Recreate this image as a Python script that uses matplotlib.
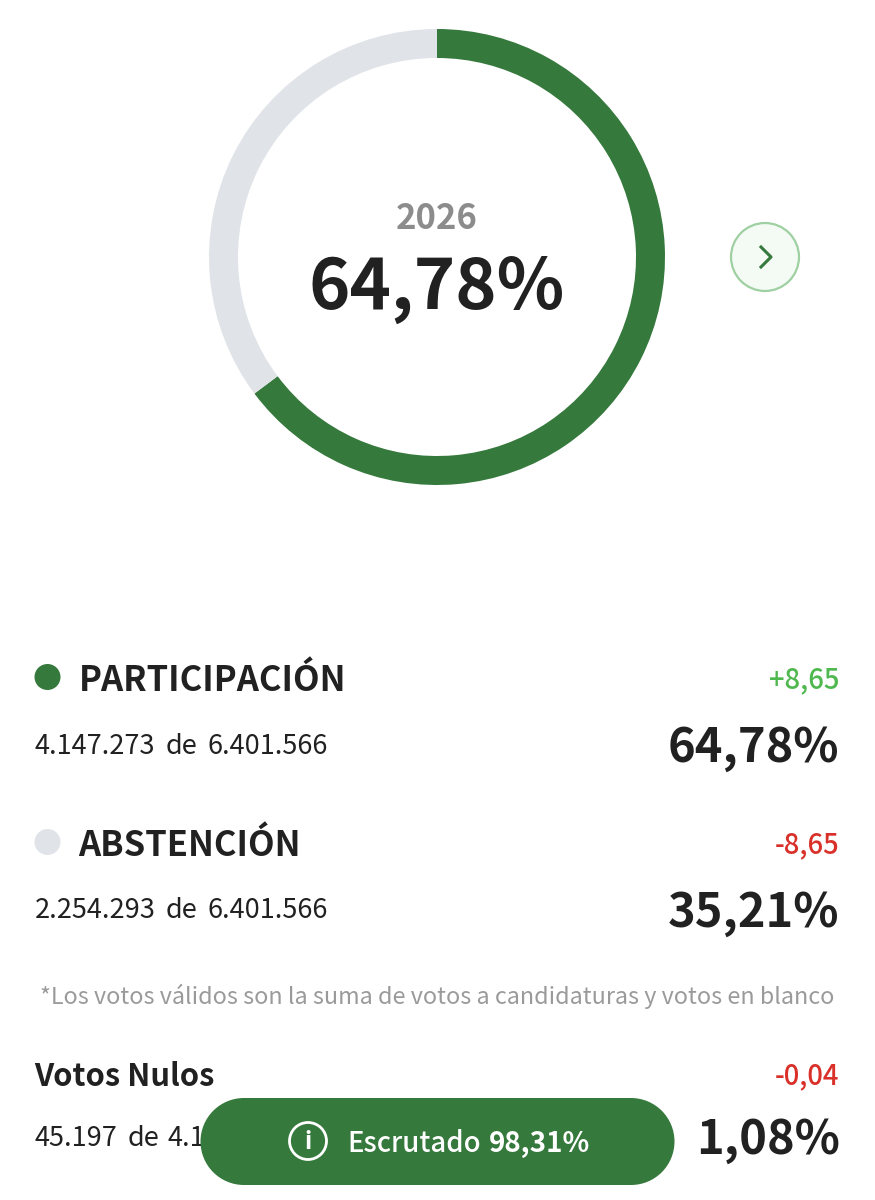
import numpy as np
import matplotlib.pyplot as plt
from matplotlib.patches import Wedge, Circle, Rectangle
from matplotlib.lines import Line2D

plt.rcParams['font.family'] = ['Noto Sans CJK JP', 'DejaVu Sans']

# Data
year = '2026'
ring_label = '64,78%'
ring_values = [64.78, 35.22]
ring_colors = ['#35793c', '#e0e3e8']

names = ['PARTICIPACIÓN', 'ABSTENCIÓN']
counts = ['4.147.273 de 6.401.566', '2.254.293 de 6.401.566']
diffs = ['+8,65', '-8,65']
pcts = ['64,78%', '35,21%']
dot_colors = ['#35793c', '#e0e3e8']
diff_colors = ['#4fb84f', '#d9302a']

note = '*Los votos válidos son la suma de votos a candidaturas y votos en blanco'
nulos_label = 'Votos Nulos'
nulos_count = '45.197 de 4.147.273'
nulos_diff = '-0,04'
nulos_pct = '1,08%'
scrutiny_label = 'Escrutado'
scrutiny_value = '98,31%'

dark = '#212121'
green = '#35793c'

fig = plt.figure(figsize=(8.75, 12), dpi=100)
ax = fig.add_axes([0, 0, 1, 1])
ax.set_xlim(0, 875)
ax.set_ylim(1200, 0)
ax.axis('off')


# the "de" in the counts sits with wider gaps than a normal space
def draw_count(text, xs, y):
    for part, x in zip(text.split(' '), xs):
        ax.text(x, y, part, fontsize=19.5, color=dark, ha='left', va='center')


# ring, y axis is flipped so angles run clockwise from the top
cx, cy = 437, 257
r_out, width = 228, 29
start = -90
for val, col in zip(ring_values, ring_colors):
    end = start + val * 3.6
    ax.add_patch(Wedge((cx, cy), r_out, start, end, width=width, color=col, lw=0))
    start = end

ax.text(cx, 218.5, year, fontsize=25, fontweight='bold', color='#8c8c8c', ha='center', va='center')
ax.text(cx, 289, ring_label, fontsize=50.6, fontweight='bold', color=dark, ha='center', va='center')

# next button
ax.add_patch(Circle((765, 257), 34, facecolor='#f4faf4', edgecolor='#9fd0a2', lw=1.6))
ax.add_line(Line2D([761, 771, 761], [247, 257, 267], color=green, lw=2.2))

# table rows
row_y = [678, 843]
for name, count, diff, pct, dot, diff_col, y in zip(names, counts, diffs, pcts, dot_colors, diff_colors, row_y):
    ax.add_patch(Circle((47.5, y - 1), 13, color=dot, lw=0))
    ax.text(78.5, y + 2.5, name, fontsize=24.9, fontweight='bold', color=dark, ha='left', va='center')
    ax.text(839, y + 1.5, diff, fontsize=19.7, fontweight='medium', color=diff_col, ha='right', va='center')
    draw_count(count, (34.5, 166, 207.5), y + 68)
    ax.text(839.5, y + 70, pct, fontsize=33.8, fontweight='bold', color=dark, ha='right', va='center')

ax.text(437, 996, note, fontsize=16.8, color='#9a9a9a', ha='center', va='center')

ax.text(34.5, 1077, nulos_label, fontsize=22.3, fontweight='bold', color=dark, ha='left', va='center')
ax.text(839, 1076, nulos_diff, fontsize=19.7, fontweight='medium', color='#d9302a', ha='right', va='center')
draw_count(nulos_count, (34.5, 128, 167.5), 1138)
ax.text(839.5, 1140, nulos_pct, fontsize=33.8, fontweight='bold', color=dark, ha='right', va='center')

# floating pill on top of the last row
ax.add_patch(Rectangle((244, 1098), 387, 87, facecolor=green, edgecolor='none', zorder=5))
ax.add_patch(Circle((244, 1141.5), 43.5, facecolor=green, edgecolor='none', zorder=5))
ax.add_patch(Circle((631, 1141.5), 43.5, facecolor=green, edgecolor='none', zorder=5))
ax.add_patch(Circle((308, 1141), 18.5, facecolor='none', edgecolor='white', lw=2, zorder=6))
ax.text(308, 1142, 'i', fontsize=17, fontweight='bold', color='white', ha='center', va='center', zorder=7)
ax.text(347.5, 1144, scrutiny_label, fontsize=19.9, fontweight='medium', color='white', ha='left', va='center', zorder=6)
ax.text(489, 1144, scrutiny_value, fontsize=20, fontweight='bold', color='white', ha='left', va='center', zorder=6)

fig.savefig('out.png', dpi=100)
